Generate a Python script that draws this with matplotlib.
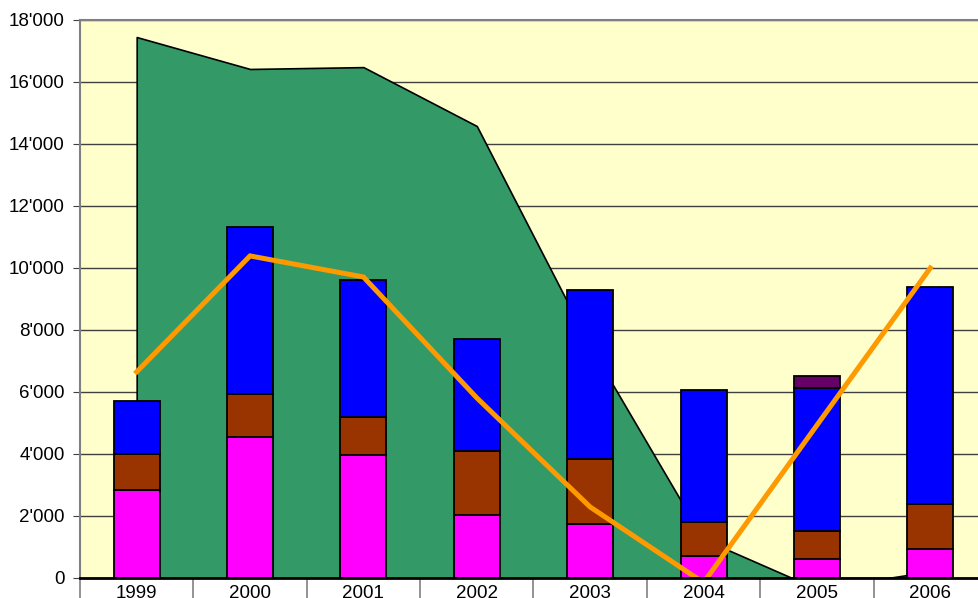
import matplotlib.pyplot as plt
import matplotlib.ticker as mticker
import numpy as np

plt.rcParams["font.family"] = ["Liberation Sans", "DejaVu Sans"]

years = ["1999", "2000", "2001", "2002", "2003", "2004", "2005", "2006"]

# green area series
area_values = [17450, 16420, 16480, 14580, 7480, 1250, -350, 210]

# stacked bar segments
magenta_values = [2840, 4550, 3970, 2030, 1740, 710, 610, 940]
brown_values = [1160, 1390, 1220, 2070, 2100, 1100, 910, 1450]
blue_values = [1710, 5380, 4420, 3610, 5450, 4250, 4610, 7000]
purple_values = [0, 0, 0, 0, 0, 0, 390, 0]

# orange line series
line_values = [6650, 10390, 9710, 5810, 2290, -150, 4930, 10000]

x = np.arange(len(years))

fig = plt.figure(figsize=(9.79, 5.98), dpi=100)
ax = fig.add_axes([80 / 979, 20 / 598, 907 / 979, 558 / 598])
ax.set_facecolor("#FFFFCC")

ax.fill_between(x, 0, area_values, facecolor="#339966", edgecolor="black",
                linewidth=1.2, zorder=2)

bar_width = 0.405
bottom = np.zeros(len(years))
for values, color in [
    (magenta_values, "#FF00FF"),
    (brown_values, "#993300"),
    (blue_values, "#0000FF"),
    (purple_values, "#660066"),
]:
    values = np.array(values)
    mask = values > 0
    ax.bar(x[mask], values[mask], bar_width, bottom=bottom[mask], color=color,
           edgecolor="black", linewidth=1.3, zorder=3)
    bottom = bottom + values

ax.plot(x, line_values, color="#FF9900", linewidth=3.6, zorder=4,
        solid_joinstyle="miter")

ax.set_xlim(-0.5, 7.5)
ax.set_ylim(0, 18000)

ax.yaxis.set_major_locator(mticker.MultipleLocator(2000))
ax.yaxis.set_major_formatter(
    mticker.FuncFormatter(lambda v, pos: f"{int(v):,}".replace(",", "'")))
ax.grid(axis="y", color="#404040", linewidth=1, zorder=1)
ax.set_axisbelow(True)

ax.set_xticks(np.arange(-0.5, 8, 1))
ax.set_xticklabels([])
ax.set_xticks(x, minor=True)
ax.set_xticklabels(years, minor=True)
ax.tick_params(axis="x", which="major", direction="out", length=25,
               color="#808080", width=1.2)
ax.tick_params(axis="x", which="minor", length=0, pad=5, labelsize=13.5)
ax.tick_params(axis="y", direction="out", length=5, color="#404040",
               labelsize=13.5, pad=6)

ax.spines["left"].set_color("#808080")
ax.spines["left"].set_linewidth(1.5)
ax.spines["top"].set_color("#808080")
ax.spines["top"].set_linewidth(1.5)
ax.spines["bottom"].set_color("black")
ax.spines["bottom"].set_linewidth(2)
ax.spines["bottom"].set_zorder(5)
ax.spines["right"].set_visible(False)

plt.savefig("out.png", dpi=100)
plt.close()
